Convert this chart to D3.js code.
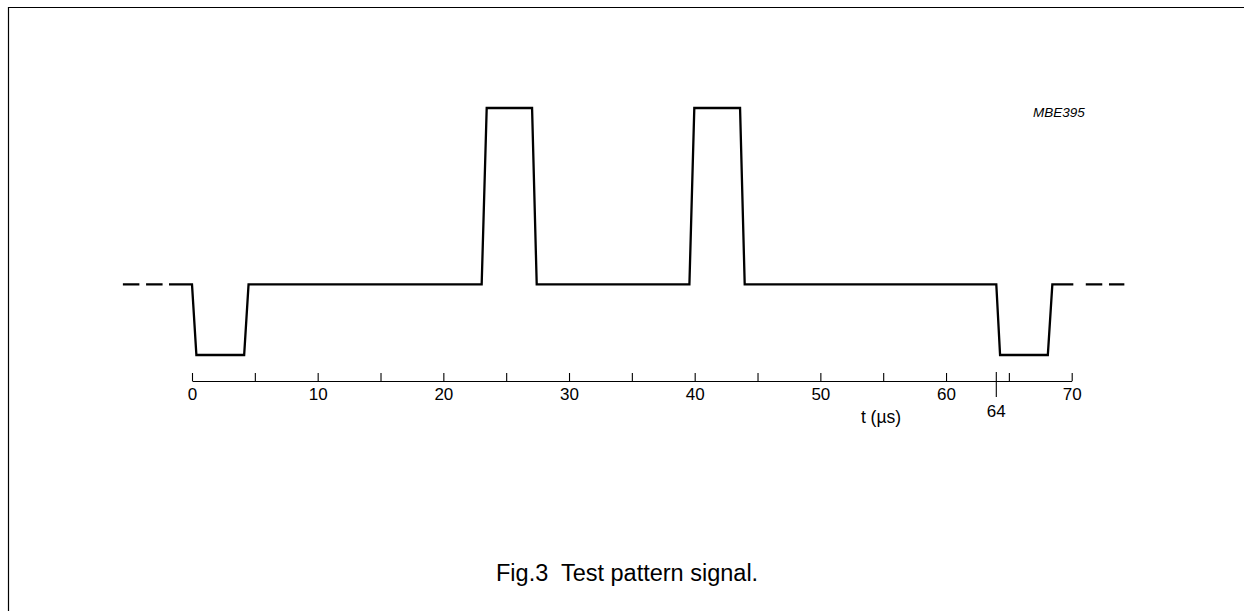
<!DOCTYPE html>
<html>
<head>
<meta charset="utf-8">
<script src="https://cdn.jsdelivr.net/npm/d3@7"></script>
<style>
  html, body { margin: 0; padding: 0; background: #fff; }
  svg { display: block; }
  text { font-family: "Liberation Sans", Arial, Helvetica, sans-serif; fill: #000; white-space: pre; }
</style>
</head>
<body>
<svg id="chart" width="1244" height="611"></svg>
<script>
// ---- data ----
const signalTime  = [-1.83, 0, 0.35, 4.15, 4.5, 23.05, 23.45, 27.06, 27.43, 39.58, 39.97, 43.61, 43.98, 64.0, 64.3, 68.1, 68.46, 70.13];
const signalLevel = [0, 0, -0.4, -0.4, 0, 0, 1, 1, 0, 0, 1, 1, 0, 0, -0.4, -0.4, 0, 0];
const dashLeft  = [-5.5, -2.33];
const dashRight = [71.12, 74.19];
const majorTicks = [0, 10, 20, 30, 40, 50, 60, 70];
const minorTicks = [5, 15, 25, 35, 45, 55, 65];
const markTick = 64;
const axisLabel = "t (\u00B5s)";
const codeLabel = "MBE395";
const caption = "Fig.3  Test pattern signal.";

// ---- layout ----
const svg = d3.select("#chart");
const x = d3.scaleLinear().domain([0, 70]).range([192, 1071.7]);
const y = d3.scaleLinear().domain([-0.4, 1]).range([355, 108]);
const axisY = 381;
const FONT = "Liberation Sans, Arial, Helvetica, sans-serif";

// frame (top and left edges)
svg.append("line").attr("x1", 8).attr("y1", 7.5).attr("x2", 1244).attr("y2", 7.5)
  .attr("stroke", "#000").attr("stroke-width", 1.2);
svg.append("line").attr("x1", 8.5).attr("y1", 7).attr("x2", 8.5).attr("y2", 611)
  .attr("stroke", "#000").attr("stroke-width", 1.2);

// signal
const pts = signalTime.map((t, i) => [t, signalLevel[i]]);
const line = d3.line().x(d => x(d[0])).y(d => y(d[1]));
svg.append("path").datum(pts).attr("d", line)
  .attr("fill", "none").attr("stroke", "#000").attr("stroke-width", 2.3)
  .attr("stroke-linejoin", "miter");

[dashLeft, dashRight].forEach(seg => {
  svg.append("path").datum(seg.map(t => [t, 0])).attr("d", line)
    .attr("fill", "none").attr("stroke", "#000").attr("stroke-width", 2.3)
    .attr("stroke-dasharray", "16.5,6.7");
});

// axis
const gAxis = svg.append("g").attr("transform", `translate(0,${axisY})`);
gAxis.call(d3.axisBottom(x).tickValues(majorTicks).tickSize(-8).tickPadding(7).tickSizeOuter(0)
  .tickFormat(d3.format("d")));
const gMinor = svg.append("g").attr("transform", `translate(0,${axisY})`);
gMinor.call(d3.axisBottom(x).tickValues(minorTicks).tickSize(-8).tickFormat(""));
gMinor.select(".domain").remove();
[gAxis, gMinor].forEach(g => {
  g.selectAll("line").attr("stroke", "#000").attr("stroke-width", 1.1);
  g.select(".domain").attr("stroke", "#000").attr("stroke-width", 1.1);
  g.selectAll("text").attr("font-size", 17).attr("font-family", FONT).attr("fill", "#000");
});

// special 64 mark
svg.append("line").attr("x1", x(markTick)).attr("x2", x(markTick))
  .attr("y1", 372).attr("y2", 397).attr("stroke", "#000").attr("stroke-width", 1.1);
svg.append("text").attr("x", x(markTick)).attr("y", 417).attr("text-anchor", "middle")
  .attr("font-size", 17).text(markTick);

// axis label
svg.append("text").attr("x", 881).attr("y", 423).attr("text-anchor", "middle")
  .attr("font-size", 17.5).text(axisLabel);

// code label
svg.append("text").attr("x", 1033).attr("y", 117).attr("font-size", 13.5)
  .attr("font-style", "italic").text(codeLabel);

// caption
svg.append("text").attr("x", 496).attr("y", 581).attr("font-size", 23.5).text(caption);
</script>
</body>
</html>
